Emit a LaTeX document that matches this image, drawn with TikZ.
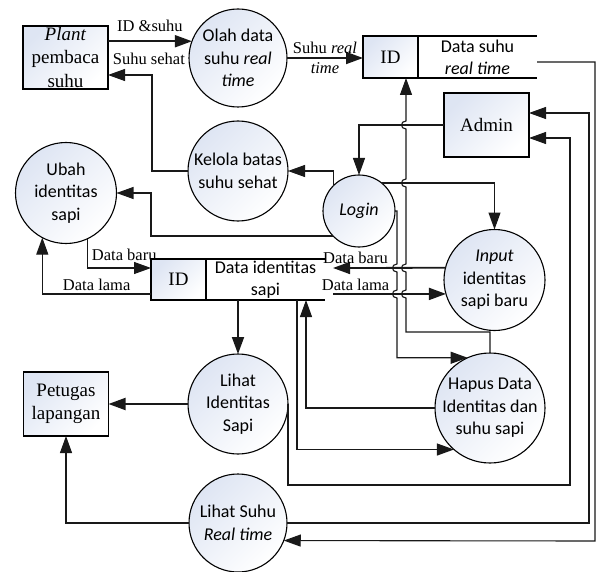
\documentclass[tikz,border=0pt]{standalone}
\usepackage{fontspec}
\setmainfont{Liberation Serif}
\newfontfamily\procfont{Carlito}
\usetikzlibrary{positioning, arrows.meta}

\definecolor{shadeblue}{RGB}{222,229,243}

% line hops where two flows cross
\newcommand{\hopdown}[2]{-- (#1,#2-4) .. controls (#1-6,#2-4) and (#1-6,#2+4) .. (#1,#2+4)}
\newcommand{\hopup}[2]{-- (#1,#2+4) .. controls (#1-6,#2+4) and (#1-6,#2-4) .. (#1,#2-4)}

\begin{document}
\begin{tikzpicture}[x=1pt, y=-1pt,
    shaded/.style={top color=shadeblue, bottom color=white, shading angle=45},
    proc/.style={circle, draw, line width=1.1pt, shaded, minimum size=100pt, inner sep=-8pt,
        outer sep=0pt, align=center, font=\procfont\fontsize{18}{22.5}\selectfont},
    ext/.style={rectangle, draw, line width=1.1pt, shaded, minimum width=85pt, minimum height=64pt,
        inner sep=0pt, outer sep=0pt, align=center, font=\fontsize{19}{23.5}\selectfont},
    storeid/.style={rectangle, draw, line width=1.1pt, shaded, minimum width=55pt, minimum height=42pt,
        inner sep=0pt, outer sep=0pt, font=\fontsize{19}{23}\selectfont},
    storetext/.style={rectangle, minimum width=119pt, minimum height=42pt, inner sep=0pt,
        outer sep=0pt, align=center, font=\procfont\fontsize{18}{22}\selectfont},
    flow/.style={draw=black!90, line width=1.1pt, -{Triangle[length=17pt, width=12pt]}},
    mainflow/.style={flow, line width=1.8pt},
    lbl/.style={font=\fontsize{16.5}{19.5}\selectfont, inner sep=1pt}]

    \useasboundingbox (0,0) rectangle (599,572);

    % EXTERNAL ENTITIES
    \node[ext, minimum height=63pt] (plant) at (65.5,57.5) {\textit{Plant}\\pembaca\\suhu};
    \node[ext] (admin) at (486.5,125) {Admin};
    \node[ext] (petugas) at (66,404) {Petugas\\lapangan};

    % PROCESSES
    \node[proc, minimum size=98pt] (olah) at (238,58) {Olah data\\suhu \textit{real}\\\textit{time}};
    \node[proc] (kelola) at (238,171) {Kelola batas\\suhu sehat};
    \node[proc, minimum size=101pt] (ubah) at (66,193) {Ubah\\identitas\\sapi};
    \node[proc, minimum size=72pt] (login) at (359,211) {\textit{Login}};
    \node[proc, minimum size=101pt] (input) at (494.5,280) {\textit{Input}\\identitas\\sapi baru};
    \node[proc, minimum size=110pt] (hapus) at (490,408) {Hapus Data\\Identitas dan\\suhu sapi};
    \node[proc] (lihatid) at (238,404) {Lihat\\Identitas\\Sapi};
    \node[proc, minimum size=98pt] (lihatsuhu) at (238,523) {Lihat Suhu\\\textit{Real time}};

    % DATA STORES
    \node[storeid] (dsID) at (390.5,57) {ID};
    \node[storetext, right=0pt of dsID] (ds) {Data suhu\\\textit{real time}};
    \draw[line width=1.1pt] (dsID.north east) -- (ds.north east);
    \draw[line width=1.1pt] (dsID.south east) -- (ds.south east);

    \node[storeid, minimum height=41pt] (diID) at (178.5,279.5) {ID};
    \node[storetext, minimum height=41pt, right=0pt of diID] (di) {Data identitas\\sapi};
    \draw[line width=1.1pt] (diID.north east) -- (di.north east);
    \draw[line width=1.1pt] (diID.south east) -- (di.south east);
    \coordinate (dinew) at (333,268);
    \coordinate (diold) at (333,294);

    % FLOWS
    \draw[mainflow] (plant.east |- olah.160.9) -- node[lbl, above=8pt] {ID \&suhu} (olah.160.9);
    \draw[flow] (kelola.west) -| (152,75) -- node[lbl, above=9pt, pos=0.07] {Suhu sehat} (plant.east |- 0,75);
    \draw[mainflow] (olah.east) -- node[lbl, align=center] {Suhu \textit{real}\\\textit{time}} (olah.east -| dsID.west);
    \draw[flow] (ds.east |- 0,62) -| (595,541) -- (lihatsuhu.-21.5);
    \draw[flow] (lihatsuhu.west) -| (petugas.south);
    \draw[mainflow] (lihatid.west) -- (petugas.east);
    \draw[mainflow] (di.south -| lihatid.north) -- (lihatid.north);

    \draw[flow] (admin.west) -| (login.north);
    \draw[flow] (login.136.2) |- (kelola.east);
    \draw[flow] (login.224) -| (151,193) -- (ubah.east);
    \draw[flow] (login.51) -| (input.north);
    \draw[flow] (login.east) -- (397,211) \hopdown{397}{268} \hopdown{397}{294} |- (hapus.114.6);
    \draw[flow] (hapus.north) |- (406,332) \hopup{406}{294} \hopup{406}{268} \hopup{406}{183}
        \hopup{406}{125} -- (dsID.south -| 406,0);
    \draw[flow] (hapus.west) -| ([xshift=40.5pt]di.south);
    \draw[flow] ([xshift=31.5pt]di.south) |- (hapus.229.8);

    \draw[mainflow] (input.166.1) -- node[lbl, above=2pt, pos=0.8] {Data baru} (dinew);
    \draw[mainflow] (diold) -- node[lbl, above=1pt, pos=0.2] {Data lama} (input.196.3);
    \draw[flow] (ubah.-65.7) |- node[lbl, above=6pt, pos=0.79] {Data baru} (diID.west |- dinew);
    \draw[flow] (diID.west |- diold) -| node[lbl, above=2pt, pos=0.25] {Data lama} (ubah.-118.1);

    \draw[flow] (lihatid.east) |- (570,485) |- ([yshift=-13pt]admin.east);
    \draw[flow] (lihatsuhu.east) -| (589,113) -- ([yshift=12pt]admin.east);

\end{tikzpicture}
\end{document}
